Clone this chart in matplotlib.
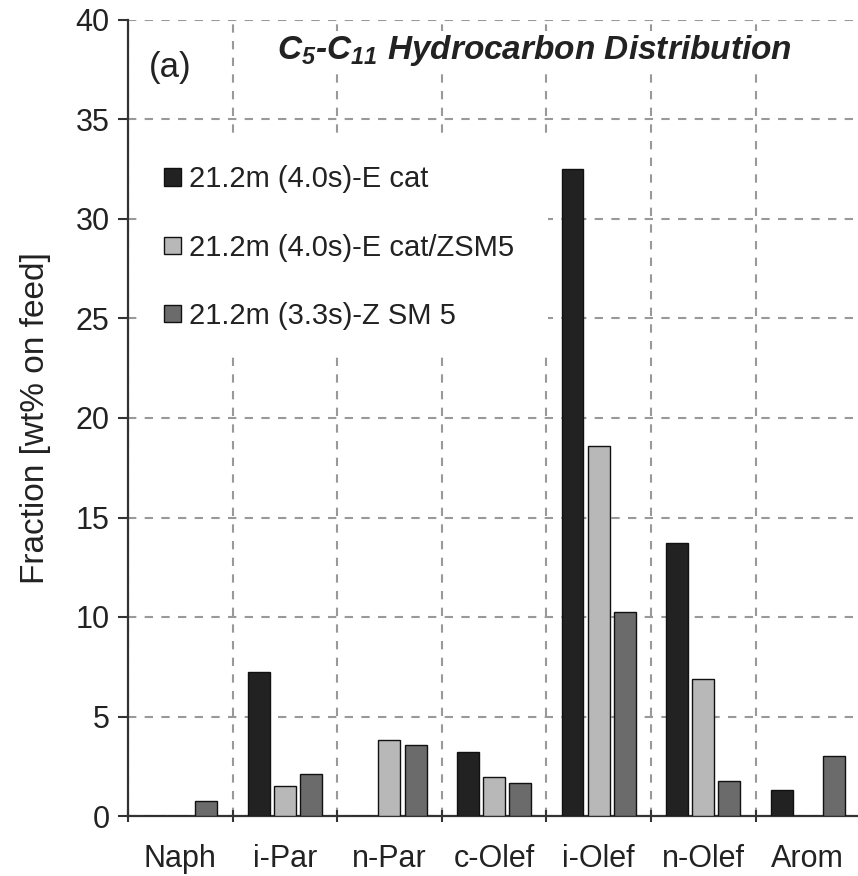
import matplotlib
matplotlib.use("Agg")
import matplotlib.pyplot as plt
from matplotlib.patches import Rectangle
import numpy as np

categories = ["Naph", "i-Par", "n-Par", "c-Olef", "i-Olef", "n-Olef", "Arom"]
series_labels = ["21.2m (4.0s)-E cat", "21.2m (4.0s)-E cat/ZSM5", "21.2m (3.3s)-Z SM 5"]
ecat = [0.0, 7.25, 0.0, 3.2, 32.5, 13.7, 1.3]
ecat_zsm5 = [0.0, 1.5, 3.8, 1.95, 18.6, 6.9, 0.0]
zsm5 = [0.75, 2.1, 3.55, 1.65, 10.25, 1.75, 3.0]
yticks = [0, 5, 10, 15, 20, 25, 30, 35, 40]

colors = ["#222222", "#b8b8b8", "#6b6b6b"]

plt.rcParams['font.family'] = ['Liberation Sans', 'DejaVu Sans']
plt.rcParams['mathtext.fontset'] = 'custom'
plt.rcParams['mathtext.rm'] = 'Liberation Sans:italic:bold'
plt.rcParams['mathtext.it'] = 'Liberation Sans:italic:bold'

W, H = 858, 876
fig = plt.figure(figsize=(W/100, H/100), dpi=100)
ax = fig.add_axes([128/W, 60/H, (W-128)/W, 796/H])

x = np.arange(len(categories))
width = 0.21
offs = [-0.25, 0.0, 0.25]
for vals, c, lab, o in zip([ecat, ecat_zsm5, zsm5], colors, series_labels, offs):
    ax.bar(x + o, vals, width, color=c, edgecolor="#111111", linewidth=1.0, label=lab, zorder=3)

ax.set_xlim(-0.5, 6.48)
ax.set_ylim(0, 40)
ax.set_yticks(yticks)
ax.set_xticks(np.arange(-0.5, 6.5, 1.0))
ax.set_xticklabels([])
ax.set_xticks(x, minor=True)
ax.set_xticklabels(categories, minor=True)
ax.tick_params(axis='x', which='minor', length=0, pad=20, labelsize=22, labelcolor="#222222")
ax.tick_params(axis='x', which='major', length=9, width=1.5, direction='inout', color="#333333")
ax.tick_params(axis='y', length=7.2, width=1.5, direction='out', labelsize=22, pad=6,
               color="#333333", labelcolor="#222222")

for s in ["top", "right"]:
    ax.spines[s].set_visible(False)
for s in ["left", "bottom"]:
    ax.spines[s].set_color("#333333")
    ax.spines[s].set_linewidth(1.6)

ax.grid(True, which='major', color="#999999", linestyle=(0, (4, 4)), linewidth=1.5, zorder=0)
ax.set_axisbelow(True)
ax.set_ylabel("Fraction [wt% on feed]", fontsize=24, labelpad=18, color="#222222")

# white area behind legend
ax.add_patch(Rectangle((0.016, 0.583), 0.559, 0.272, transform=ax.transAxes,
                       facecolor="white", edgecolor="none", zorder=1))

leg = ax.legend(loc='upper left', bbox_to_anchor=(0.034, 0.832), frameon=False,
                fontsize=21, handlelength=0.55, handleheight=0.55, handletextpad=0.3,
                labelspacing=1.38, borderaxespad=0)
for t in leg.get_texts():
    t.set_color("#222222")

ax.text(0.058, 0.94, "(a)", transform=ax.transAxes, fontsize=25, ha='center', va='center',
        zorder=4, color="#222222")
ax.text(0.557, 0.962, r"$\mathrm{C_5}$-$\mathrm{C_{11}}$ Hydrocarbon Distribution",
        transform=ax.transAxes, fontsize=24, fontweight='bold', fontstyle='italic',
        ha='center', va='center', zorder=4, color="#222222",
        bbox=dict(facecolor='white', edgecolor='none', pad=1))

fig.savefig("out.png", dpi=100)
